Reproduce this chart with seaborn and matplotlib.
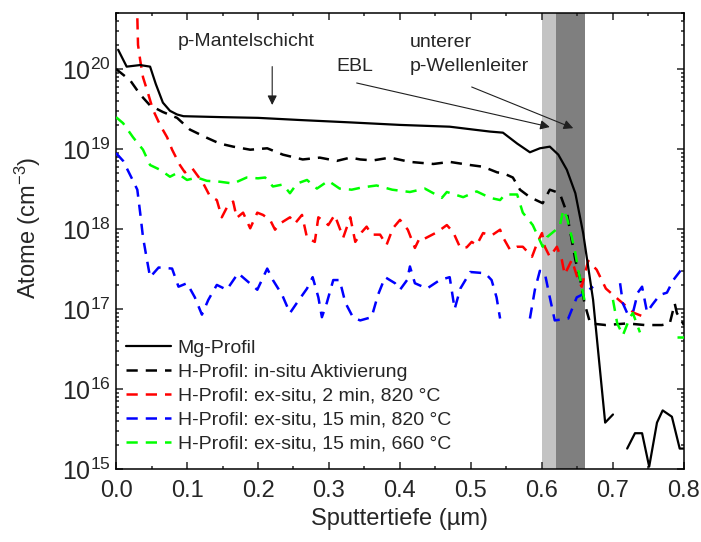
import numpy as np
import pandas as pd
import matplotlib
matplotlib.use("Agg")
import matplotlib.pyplot as plt
from matplotlib.lines import Line2D
from matplotlib.ticker import LogLocator, MultipleLocator, NullFormatter
import seaborn as sns

nan = float("nan")

# ---------------- data ----------------
mg_x = [0.003, 0.015, 0.034, 0.048, 0.056, 0.066, 0.076, 0.086, 0.095, 0.15, 0.20, 0.26, 0.33, 0.40, 0.47,
        0.503, 0.527, 0.545, 0.565, 0.583, 0.597, 0.611, 0.623, 0.635, 0.647, 0.658, 0.665,
        0.672, 0.689, 0.700, 0.710, 0.720, 0.731, 0.741, 0.751, 0.762, 0.770, 0.783, 0.794, 0.800]
mg_y = [1.74e20, 1.07e20, 1.12e20, 1.07e20, 6.5e19, 3.8e19, 3.0e19, 2.7e19, 2.57e19, 2.5e19, 2.45e19, 2.3e19,
        2.15e19, 2.0e19, 1.9e19, 1.75e19, 1.65e19, 1.6e19, 1.17e19, 9.1e18, 1.02e19, 1.07e19,
        8.5e18, 5.5e18, 2.8e18, 8.9e17, 3.4e17, 1.3e17, 3.8e15, 4.8e15, nan, 1.8e15, 2.8e15,
        2.8e15, 1.07e15, 3.8e15, 5.4e15, 4.5e15, 1.8e15, 1.8e15]

insitu_x = [0.0, 0.02, 0.034, 0.048, 0.066, 0.086, 0.104, 0.128, 0.146, 0.165, 0.189, 0.213,
            0.235, 0.263, 0.287, 0.311, 0.33, 0.344, 0.362, 0.386, 0.414, 0.447, 0.47, 0.499,
            0.517, 0.537, 0.545, 0.559, 0.569, 0.583, 0.601, 0.611, 0.625, 0.635, 0.642, 0.647,
            0.654, 0.660, 0.668, 0.69, 0.72, 0.745, 0.769, 0.78, 0.787, 0.79, 0.80]
insitu_y = [1.0e20, 7.2e19, 4.8e19, 3.5e19, 2.9e19, 2.45e19, 1.75e19, 1.38e19, 1.17e19, 1.07e19,
            9.8e18, 1.02e19, 8.5e18, 7.4e18, 7.8e18, 7.1e18, 7.8e18, 7.4e18, 7.2e18, 7.8e18,
            6.9e18, 6.5e18, 6.9e18, 6.3e18, 6.0e18, 5.1e18, 5.0e18, 4.4e18, 3.1e18, 2.5e18,
            2.1e18, 3.1e18, 2.8e18, 1.6e18, 7.2e17, 4.1e17, 2.3e17, 1.17e17, 6.6e16, 6.3e16,
            6.6e16, 6.3e16, 6.3e16, 6.6e16, 1.17e17, 8.9e16, 6.3e16]

red_x = [0.027, 0.031, 0.034, 0.038, 0.045, 0.052, 0.062, 0.072, 0.079, 0.09, 0.097, 0.107,
         0.123, 0.132, 0.142, 0.149, 0.158, 0.165, 0.17, 0.179, 0.189, 0.199, 0.207, 0.217,
         0.224, 0.231, 0.245, 0.252, 0.262, 0.269, 0.28, 0.285, 0.294, 0.299, 0.308, 0.32,
         0.33, 0.337, 0.346, 0.353, 0.36, 0.372, 0.381, 0.39, 0.40, 0.411, 0.421, 0.428, 0.435,
         0.452, 0.466, 0.475, 0.485, 0.494, 0.501, 0.508, 0.517, 0.529, 0.541, 0.545, 0.555,
         0.565, 0.573, 0.586, 0.593, 0.60, 0.604, 0.611, 0.621, 0.628, 0.632, 0.642, 0.651,
         0.656, 0.665, 0.677, 0.69, 0.71, 0.73, 0.745]
red_y = [5e21, 2.0e20, 1.3e20, 7.9e19, 5.0e19, 3.1e19, 2.0e19, 1.4e19, 9.8e18, 6.3e18, 5.1e18,
         5.8e18, 3.7e18, 2.6e18, 2.3e18, 1.4e18, 2.0e18, 2.2e18, 1.38e18, 1.6e18, 1.02e18,
         1.6e18, 1.5e18, 1.3e18, 9.8e17, 1.17e18, 1.4e18, 1.17e18, 1.5e18, 7.8e17, 6.9e17,
         1.4e18, 1.23e18, 1.12e18, 1.5e18, 7.8e17, 1.4e18, 6.9e17, 9.1e17, 1.07e18, 8.5e17,
         8.5e17, 6.3e17, 1.02e18, 1.3e18, 9.8e17, 5.8e17, 7.8e17, 7.6e17, 9.1e17, 1.12e18,
         9.1e17, 5.8e17, 5.9e17, 6.9e17, 6.3e17, 8.9e17, 8.3e17, 9.8e17, 7.9e17, 5.5e17,
         6.0e17, 6.0e17, 4.5e17, 6.6e17, 8.9e17, 6.0e17, 4.5e17, 6.0e17, 4.1e17, 2.7e17,
         4.1e17, 2.3e17, 1.9e17, 4.0e17, 3.1e17, 1.8e17, 1.26e17, 8.9e16, 7.9e16]

blue_x = [0.0, 0.01, 0.024, 0.03, 0.034, 0.038, 0.043, 0.048, 0.06, 0.079, 0.088, 0.10, 0.111,
          0.121, 0.13, 0.142, 0.156, 0.172, 0.199, 0.213, 0.221, 0.234, 0.245, 0.255, 0.269,
          0.277, 0.285, 0.29, 0.297, 0.306, 0.315, 0.323, 0.334, 0.344, 0.36, 0.369, 0.379,
          0.393, 0.40, 0.41, 0.414, 0.421, 0.438, 0.456, 0.47, 0.477, 0.485, 0.499, 0.52,
          0.529, 0.536, 0.541, 0.56, 0.583, 0.59, 0.597, 0.604, 0.611, 0.618, 0.637, 0.649,
          0.656, 0.672, 0.69, 0.71, 0.714, 0.72, 0.728, 0.735, 0.741, 0.748, 0.755, 0.766,
          0.776, 0.785, 0.795, 0.80]
blue_y = [8.9e18, 7.1e18, 4.0e18, 3.1e18, 1.6e18, 7.9e17, 4.4e17, 2.5e17, 3.3e17, 3.2e17,
          1.9e17, 2.1e17, 1.4e17, 8.5e16, 1.3e17, 2.0e17, 1.74e17, 2.8e17, 1.74e17, 3.2e17,
          2.3e17, 1.5e17, 8.9e16, 1.2e17, 1.8e17, 2.5e17, 1.4e17, 7.9e16, 1.2e17, 2.3e17,
          2.3e17, 1.2e17, 7.8e16, 7.2e16, 7.9e16, 1.5e17, 2.5e17, 2.1e17, 1.74e17, 2.3e17,
          3.4e17, 2.1e17, 1.8e17, 2.3e17, 2.5e17, 1.0e17, 1.8e17, 2.9e17, 2.8e17, 2.3e17,
          1.4e17, 7.6e16, nan, 7.6e16, 1.74e17, 3.0e17, 2.8e17, 1.4e17, 7.2e16, 7.6e16,
          1.4e17, 1.5e17, 1.9e17, nan, 2.1e17, 1.17e17, 8.9e16, 8.9e16, 1.6e17, 1.9e17,
          9.1e16, 1.12e17, 1.5e17, 1.6e17, 2.3e17, 3.0e17, 3.2e17]

green_x = [0.0, 0.01, 0.024, 0.038, 0.048, 0.062, 0.076, 0.086, 0.10, 0.114, 0.128, 0.146,
           0.165, 0.184, 0.20, 0.21, 0.221, 0.235, 0.245, 0.255, 0.269, 0.283, 0.299, 0.315,
           0.332, 0.346, 0.367, 0.389, 0.414, 0.435, 0.459, 0.466, 0.489, 0.508, 0.527, 0.541,
           0.548, 0.565, 0.573, 0.587, 0.597, 0.601, 0.607, 0.625, 0.63, 0.635, 0.642, 0.647,
           0.651, 0.656, 0.66, 0.68, 0.70, 0.706, 0.714, 0.724, 0.728, 0.738, 0.76, 0.79, 0.80]
green_y = [2.5e19, 2.1e19, 1.4e19, 9.8e18, 6.3e18, 5.5e18, 4.5e18, 5.0e18, 4.1e18, 4.4e18,
           4.0e18, 3.9e18, 3.7e18, 4.4e18, 4.3e18, 4.4e18, 3.4e18, 3.6e18, 2.8e18, 3.7e18,
           4.1e18, 3.2e18, 4.0e18, 3.2e18, 3.1e18, 3.3e18, 3.5e18, 3.1e18, 2.9e18, 3.2e18,
           2.45e18, 2.9e18, 2.5e18, 2.95e18, 2.45e18, 2.3e18, 2.7e18, 2.7e18, 1.6e18, 1.12e18,
           7.2e17, 6.0e17, 7.9e17, 1.07e18, 1.74e18, 1.4e18, 7.9e17, 5.0e17, 3.1e17, 1.9e17,
           1.26e17, nan, 1.3e17, 6.6e16, 4.7e16, 7.9e16, 8.9e16, 5.1e16, nan, 4.5e16, 4.5e16]

series_labels = ["Mg-Profil",
                 "H-Profil: in-situ Aktivierung",
                 "H-Profil: ex-situ, 2 min, 820 °C",
                 "H-Profil: ex-situ, 15 min, 820 °C",
                 "H-Profil: ex-situ, 15 min, 660 °C"]
series_colors = ["black", "black", "#ff0000", "#0000ff", "#00ff00"]

xtick_vals = [0.0, 0.1, 0.2, 0.3, 0.4, 0.5, 0.6, 0.7, 0.8]
xtick_labels = ["0.0", "0.1", "0.2", "0.3", "0.4", "0.5", "0.6", "0.7", "0.8"]
ytick_vals = [1e15, 1e16, 1e17, 1e18, 1e19, 1e20]
ytick_labels = [r"$\mathregular{10^{15}}$", r"$\mathregular{10^{16}}$", r"$\mathregular{10^{17}}$",
                r"$\mathregular{10^{18}}$", r"$\mathregular{10^{19}}$", r"$\mathregular{10^{20}}$"]

# ---------------- style ----------------
sns.set_theme(style="ticks")
plt.rcParams["font.family"] = ["Liberation Sans", "DejaVu Sans"]
plt.rcParams["mathtext.fontset"] = "custom"
plt.rcParams["mathtext.rm"] = "Liberation Sans"
plt.rcParams["mathtext.it"] = "Liberation Sans:italic"
plt.rcParams["mathtext.bf"] = "Liberation Sans:bold"
plt.rcParams["axes.linewidth"] = 1.1

fig = plt.figure(figsize=(7.01, 5.42), dpi=100)
ax = fig.add_axes([0.1655, 0.1347, 0.8102, 0.8413])

ax.axvspan(0.60, 0.62, color="#c3c3c3", lw=0, zorder=0)
ax.axvspan(0.62, 0.66, color="#7f7f7f", lw=0, zorder=0)


def make_df(xs, ys):
    df = pd.DataFrame({"x": xs, "y": ys})
    df["seg"] = df["y"].isna().cumsum()
    return df.dropna()


dash = (0, (4.5, 3.2))
all_series = [(mg_x, mg_y), (insitu_x, insitu_y), (red_x, red_y), (blue_x, blue_y), (green_x, green_y)]
for i, (xs, ys) in enumerate(all_series):
    df = make_df(xs, ys)
    if i == 0:
        sns.lineplot(data=df, x="x", y="y", units="seg", estimator=None, color=series_colors[i],
                     linewidth=1.6, linestyle="-", ax=ax, legend=False, zorder=5)
    else:
        sns.lineplot(data=df, x="x", y="y", units="seg", estimator=None, color=series_colors[i],
                     linewidth=1.8, linestyle=dash, ax=ax, legend=False, zorder=3 + i * 0.1)

ax.set_yscale("log")
ax.set_xlim(0.0, 0.8)
ax.set_ylim(1e15, 5.01e20)
ax.set_xticks(xtick_vals)
ax.set_xticklabels(xtick_labels)
ax.xaxis.set_minor_locator(MultipleLocator(0.05))
ax.set_yticks(ytick_vals)
ax.set_yticklabels(ytick_labels)
ax.yaxis.set_minor_locator(LogLocator(base=10, subs=np.arange(2, 10), numticks=20))
ax.yaxis.set_minor_formatter(NullFormatter())
ax.tick_params(which="both", direction="in", top=True, right=True, width=1.1)
ax.tick_params(which="major", length=5)
ax.tick_params(which="minor", length=2.5)
ax.tick_params(axis="x", which="major", labelsize=17, pad=8)
ax.tick_params(axis="y", which="major", labelsize=18, pad=4)
for s in ax.spines.values():
    s.set_color("black")
    s.set_linewidth(1.1)

ax.set_xlabel("Sputtertiefe (µm)", fontsize=17)
ax.set_ylabel(r"Atome (cm$^{\mathregular{-3}}$)", fontsize=17)
ax.xaxis.set_label_coords(0.5, -0.085)
ax.yaxis.set_label_coords(-0.128, 0.53)

# annotations
ax.text(0.183, 10 ** 20.34, "p-Mantelschicht", fontsize=14, ha="center", va="center")
ax.text(0.337, 10 ** 20.025, "EBL", fontsize=14, ha="center", va="center")
ax.text(0.414, 10 ** 20.325, "unterer", fontsize=14, ha="left", va="center")
ax.text(0.414, 10 ** 20.025, "p-Wellenleiter", fontsize=14, ha="left", va="center")
arrow_kw = dict(arrowstyle="-|>", color="#202020", lw=0.8, mutation_scale=14, shrinkA=0, shrinkB=0)
ax.annotate("", xy=(0.22, 10 ** 19.55), xytext=(0.22, 10 ** 20.03), arrowprops=arrow_kw)
ax.annotate("", xy=(0.611, 10 ** 19.275), xytext=(0.339, 10 ** 19.825), arrowprops=arrow_kw)
ax.annotate("", xy=(0.644, 10 ** 19.26), xytext=(0.501, 10 ** 19.775), arrowprops=arrow_kw)

handles = [Line2D([], [], color=series_colors[0], lw=1.6, ls="-")]
for c in series_colors[1:]:
    handles.append(Line2D([], [], color=c, lw=1.8, ls=dash))
ax.legend(handles, series_labels, loc="upper left", bbox_to_anchor=(0.018, 0.285), frameon=False,
          fontsize=14, handlelength=2.3, handletextpad=0.35, labelspacing=0.33, borderpad=0,
          borderaxespad=0)

fig.savefig("out.png", dpi=100)
